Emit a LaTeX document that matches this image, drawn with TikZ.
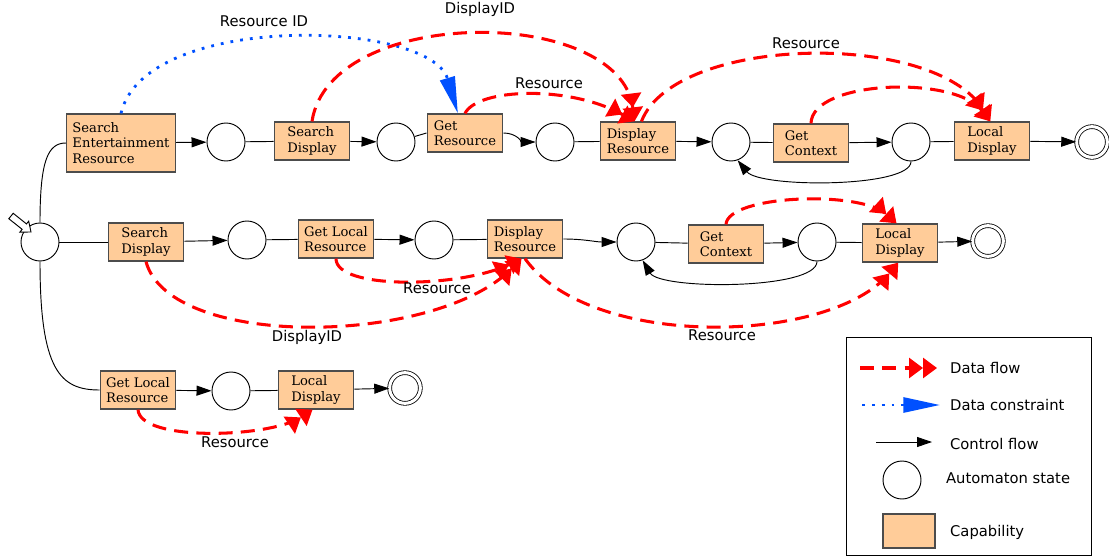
\documentclass[tikz,border=0pt]{standalone}
\usepackage{xcolor}
\usepackage{fontspec}
\setmainfont{DejaVu Sans}
\newfontfamily\capfont{DejaVu Serif}
\usepackage{tikz}
\usetikzlibrary{arrows.meta,positioning}

\definecolor{capfill}{HTML}{FFCC99}
\definecolor{flowred}{HTML}{FF0000}
\definecolor{consblue}{HTML}{0050FF}

\tikzset{
    capbox/.style={draw=black!70, line width=1.1pt, fill=capfill, align=left,
        font=\capfont\fontsize{11.2}{13.2}\selectfont,
        minimum width=2.27cm, minimum height=1.14cm, inner xsep=5pt, inner ysep=3pt},
    state/.style={circle, draw, line width=0.8pt, fill=white, minimum size=1.14cm, inner sep=0pt},
    final/.style={circle, draw, line width=0.7pt, double, double distance=2.6pt,
        minimum size=0.92cm, inner sep=0pt},
    link/.style={line width=0.8pt},
    ctrl/.style={line width=0.8pt, -{Triangle[length=4.5mm,width=3mm]}},
    dflow/.style={draw=flowred, line width=2.6pt, dash pattern=on 12pt off 7pt,
        -{Triangle[length=4.2mm,width=6mm]Triangle[length=4.2mm,width=6mm]}},
    dcons/.style={draw=consblue, line width=2.4pt, dash pattern=on 2.4pt off 6pt,
        -{Triangle[length=11mm,width=4.5mm]}},
    lbl/.style={font=\fontsize{12.6}{15}\selectfont}
}

\begin{document}
\begin{tikzpicture}[x=0.03cm,y=-0.03cm]
    \useasboundingbox (0,0) rectangle (1109,559);

    \node[capbox, minimum height=1.74cm] (ser) at (121,143) {Search\\Entertainment\\Resource};
    \node[state] (c1) at (226,142) {};
    \node[capbox] (sd1) at (312,141) {Search\\Display};
    \node[state] (c2) at (396,142) {};
    \node[capbox] (gr) at (465,133) {Get\\Resource};
    \node[state] (c3) at (555,142) {};
    \node[capbox] (dr1) at (638,141) {Display\\Resource};
    \node[state] (c4) at (731,142) {};
    \node[capbox] (gc1) at (811,143) {Get\\Context};
    \node[state] (c5) at (911,142) {};
    \node[capbox] (ld1) at (992,141) {Local\\Display};
    \node[final] (f1) at (1092,142) {};

    \node[state] (s0) at (40,242) {};
    \node[capbox] (sd2) at (146,242) {Search\\Display};
    \node[state] (c6) at (247,240) {};
    \node[capbox] (glr2) at (336,239) {Get Local\\Resource};
    \node[state] (c7) at (434,240) {};
    \node[capbox] (dr2) at (525,239) {Display\\Resource};
    \node[state] (c8) at (636,242) {};
    \node[capbox] (gc2) at (726,244) {Get\\Context};
    \node[state] (c9) at (817,242) {};
    \node[capbox] (ld2) at (900,243) {Local\\Display};
    \node[final] (f2) at (988,241) {};

    \node[capbox] (glr3) at (138,390) {Get Local\\Resource};
    \node[state] (c10) at (231,391) {};
    \node[capbox] (ld3) at (316,390) {Local\\Display};
    \node[final] (f3) at (405,388) {};

    \draw[link, fill=white] (13.2,213.3) -- (26.5,223.9) -- (28.7,221.2) -- (31,232)
        -- (19.9,232.1) -- (22.1,229.3) -- (8.8,218.7) -- cycle;

    \draw[link] (s0.north) .. controls (40,160) and (48,143) .. (ser.west);
    \draw[link] (s0) -- (sd2);
    \draw[link] (s0.south) .. controls (40,370) and (60,390) .. (glr3.west);

    \draw[ctrl] (ser) -- (c1);
    \draw[link] (c1) -- (sd1);
    \draw[ctrl] (sd1) -- (c2);
    \draw[link] (c2) -- (gr.west);
    \draw[ctrl] (gr.east) to[out=0,in=180] (c3.west);
    \draw[link] (c3) -- (dr1);
    \draw[ctrl] (dr1) -- (c4);
    \draw[link] (c4) -- (gc1);
    \draw[ctrl] (gc1) -- (c5);
    \draw[link] (c5) -- (ld1);
    \draw[ctrl] (ld1) -- (f1);
    \draw[ctrl] (c5.south) .. controls (911,188) and (760,188) .. (c4.-70);

    \draw[ctrl] (sd2) -- (c6);
    \draw[link] (c6) -- (glr2);
    \draw[ctrl] (glr2) -- (c7);
    \draw[link] (c7) -- (dr2);
    \draw[ctrl] (dr2.east) to[out=0,in=180] (c8.west);
    \draw[link] (c8) -- (gc2);
    \draw[ctrl] (gc2) -- (c9);
    \draw[link] (c9) -- (ld2);
    \draw[ctrl] (ld2) -- (f2);
    \draw[ctrl] (c9.south) .. controls (817,290) and (660,290) .. (c8.-70);

    \draw[ctrl] (glr3) -- (c10);
    \draw[link] (c10) -- (ld3);
    \draw[ctrl] (ld3) -- (f3);

    \draw[dcons] (ser.north) .. controls (145,11) and (430,20) .. (gr.110);
    \draw[dflow] (sd1.north) .. controls (330,5) and (620,5) .. (dr1.100);
    \draw[dflow] (gr.north) .. controls (478,88) and (570,85) .. (dr1.100);
    \draw[dflow] (dr1.80) .. controls (675,35) and (935,30) .. (ld1.95);
    \draw[dflow] (gc1.north) .. controls (812,80) and (955,75) .. (ld1.95);

    \draw[dflow] (gc2.north) .. controls (728,195) and (860,190) .. (ld2.100);
    \draw[dflow] (dr2.south) .. controls (590,350) and (830,345) .. (ld2.-95);
    \draw[dflow] (sd2.south) .. controls (170,350) and (436,346) .. (dr2.-100);
    \draw[dflow] (glr2.south) .. controls (336,290) and (460,288) .. (dr2.-100);

    \draw[dflow] (glr3.south) .. controls (140,442) and (270,438) .. (ld3.-100);

    \node[lbl] (lresid) at (264,21) {Resource ID};
    \node[lbl] (ldid1) at (480,9) {DisplayID};
    \node[lbl] (lres1) at (549,83) {Resource};
    \node[lbl] (lres2) at (806,43) {Resource};
    \node[lbl] (lres3) at (437,288) {Resource};
    \node[lbl] (ldid2) at (307,337) {DisplayID};
    \node[lbl] (lres4) at (722,335) {Resource};
    \node[lbl] (lres5) at (235,442) {Resource};

    \draw[line width=0.8pt] (846,337) rectangle (1091,555);
    \coordinate (lgdf0) at (860,368);
    \coordinate (lgdf1) at (937,368);
    \coordinate (lgdc0) at (862,405);
    \coordinate (lgdc1) at (940,405);
    \coordinate (lgcf0) at (876,442);
    \coordinate (lgcf1) at (932,442);
    \draw[dflow] (lgdf0) -- (lgdf1);
    \draw[dcons] (lgdc0) -- (lgdc1);
    \draw[ctrl] (lgcf0) -- (lgcf1);
    \node[state] (lgstate) at (902,480) {};
    \node[capbox, minimum width=1.56cm, minimum height=1.02cm] (lgcap) at (909,531) {};
    \node[lbl, anchor=west] (lgtdf) at (946,368) {Data flow};
    \node[lbl, anchor=west] (lgtdc) at (946,405) {Data constraint};
    \node[lbl, anchor=west] (lgtcf) at (946,444) {Control flow};
    \node[lbl, anchor=west] (lgtst) at (942,478) {Automaton state};
    \node[lbl, anchor=west] (lgtcap) at (946,532) {Capability};
\end{tikzpicture}
\end{document}
